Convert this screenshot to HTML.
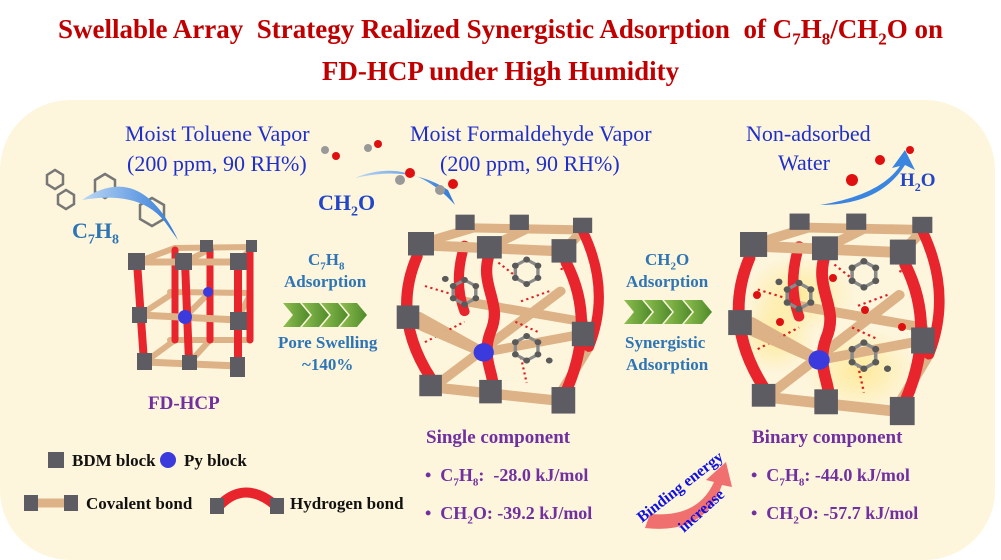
<!DOCTYPE html>
<html><head><meta charset="utf-8"><style>
html,body{margin:0;padding:0;background:#fff;}
body{width:1001px;height:543px;position:relative;overflow:hidden;font-family:"Liberation Serif",serif;font-weight:bold;}
.t{position:absolute;white-space:nowrap;}
.title{color:#c00000;font-size:27px;left:0;width:1001px;text-align:center;}
.blue{color:#1f2fcc;font-weight:normal;font-size:21px;}
.lb{color:#2e75b6;}
.pur{color:#7030a0;}
.k{color:#111;font-size:17px;}
</style></head><body>
<div class="t title" style="top:14px">Swellable Array&nbsp; Strategy Realized Synergistic Adsorption&nbsp; of C<sub style="font-size:17px">7</sub>H<sub style="font-size:17px">8</sub>/CH<sub style="font-size:17px">2</sub>O on</div>
<div class="t title" style="top:56px">FD-HCP under High Humidity</div>
<div style="position:absolute;left:0;top:100px;width:995px;height:460px;background:#fdf5dc;border-radius:70px;"></div>
<svg style="position:absolute;left:0;top:0" width="1001" height="543">
<defs>
<linearGradient id="g" x1="0" x2="1"><stop offset="0" stop-color="#8fbf50"/><stop offset="1" stop-color="#4e8a2a"/></linearGradient>
<linearGradient id="ba" x1="0" x2="1"><stop offset="0" stop-color="#bcd8f5"/><stop offset="1" stop-color="#2f78d8"/></linearGradient>
<radialGradient id="glow"><stop offset="0" stop-color="#ffe680" stop-opacity="0.9"/><stop offset="1" stop-color="#ffe680" stop-opacity="0"/></radialGradient>
<g id="cube">
 <g stroke="#deb287" stroke-width="9" stroke-linecap="round">
  <line x1="463" y1="228" x2="560" y2="230"/>
  <line x1="417" y1="243" x2="463" y2="228"/><line x1="477" y1="247" x2="510" y2="229"/><line x1="543" y1="250" x2="560" y2="230"/>
  <line x1="415" y1="315" x2="472" y2="350"/><line x1="472" y1="350" x2="560" y2="332"/>
  <line x1="430" y1="382" x2="540" y2="290"/><line x1="455" y1="300" x2="560" y2="320"/>
  <line x1="540" y1="390" x2="565" y2="345"/>
 </g>
 <g stroke="#e8242c" stroke-width="9" fill="none" stroke-linecap="round">
  <path d="M560 232 Q585 290 565 345"/><path d="M455 245 Q445 280 455 310"/>
 </g>
 <g stroke="#e02020" stroke-width="2" stroke-dasharray="2,3" fill="none">
  <line x1="420" y1="285" x2="450" y2="295"/><line x1="420" y1="340" x2="455" y2="320"/><line x1="485" y1="262" x2="500" y2="275"/><line x1="505" y1="300" x2="530" y2="290"/><line x1="500" y1="320" x2="520" y2="330"/><line x1="505" y1="355" x2="510" y2="380"/><line x1="540" y1="268" x2="548" y2="270"/>
 </g>
 <g fill="none" stroke="#8a8a8a" stroke-width="3">
  <polygon points="445,285 455,279 465,285 465,297 455,303 445,297"/>
  <polygon points="500,265 510,259 520,265 520,277 510,283 500,277"/>
  <polygon points="500,340 510,334 520,340 520,352 510,358 500,352"/>
 </g>
 <g fill="#5a5a5a">
  <circle cx="445" cy="285" r="3"/><circle cx="455" cy="279" r="3"/><circle cx="465" cy="285" r="3"/><circle cx="465" cy="297" r="3"/><circle cx="455" cy="303" r="3"/><circle cx="445" cy="297" r="3"/><circle cx="438" cy="278" r="3"/>
  <circle cx="500" cy="265" r="3"/><circle cx="510" cy="259" r="3"/><circle cx="520" cy="265" r="3"/><circle cx="520" cy="277" r="3"/><circle cx="510" cy="283" r="3"/><circle cx="500" cy="277" r="3"/>
  <circle cx="500" cy="340" r="3"/><circle cx="510" cy="334" r="3"/><circle cx="520" cy="340" r="3"/><circle cx="520" cy="352" r="3"/><circle cx="510" cy="358" r="3"/><circle cx="500" cy="352" r="3"/><circle cx="530" cy="358" r="3"/>
 </g>
 <g fill="#5c5c62">
  <rect x="447" y="215" width="17" height="15"/><rect x="495" y="215" width="17" height="15"/><rect x="551" y="218" width="17" height="15"/>
 </g>
 <g stroke="#deb287" stroke-width="10" stroke-linecap="round">
  <line x1="417" y1="245" x2="543" y2="251"/>
  <line x1="425" y1="384" x2="543" y2="398"/>
  <line x1="405" y1="318" x2="472" y2="350"/>
 </g>
 <g stroke="#e8242c" stroke-width="10" fill="none" stroke-linecap="round">
  <path d="M413 256 Q390 315 425 375"/>
  <path d="M478 250 C466 285 490 300 478 330 C468 360 486 375 478 392"/>
  <path d="M545 262 Q572 320 545 388"/>
 </g>
 <circle cx="472" cy="350" r="9" fill="#3b3bdd"/>
 <g fill="#5c5c62">
  <rect x="405" y="232" width="23" height="23"/><rect x="466" y="236" width="22" height="22"/><rect x="532" y="239" width="22" height="23"/>
  <rect x="395" y="304" width="20" height="23"/><rect x="550" y="320" width="20" height="24"/>
  <rect x="415" y="372" width="20" height="21"/><rect x="468" y="377" width="20" height="23"/><rect x="532" y="384" width="21" height="26"/>
 </g>
</g>
</defs>
<!-- small cube -->
<g stroke-linecap="round">
<g stroke="#deb287" stroke-width="6">
<line x1="175" y1="248" x2="252" y2="247"/><line x1="170" y1="292" x2="250" y2="293"/><line x1="170" y1="340" x2="250" y2="340"/>
<line x1="137" y1="262" x2="175" y2="248"/><line x1="185" y1="262" x2="212" y2="248"/><line x1="238" y1="262" x2="252" y2="248"/>
<line x1="140" y1="315" x2="175" y2="292"/><line x1="185" y1="317" x2="210" y2="292"/><line x1="238" y1="318" x2="250" y2="295"/>
<line x1="145" y1="362" x2="175" y2="340"/><line x1="190" y1="362" x2="210" y2="340"/>
</g>
<g stroke="#e8242c" stroke-width="7">
<line x1="175" y1="250" x2="175" y2="340"/><line x1="210" y1="250" x2="210" y2="340"/><line x1="250" y1="250" x2="250" y2="340"/>
</g>
<g fill="#5c5c62"><rect x="200" y="240" width="13" height="12"/><rect x="246" y="240" width="11" height="12"/></g>
<g stroke="#deb287" stroke-width="7">
<line x1="137" y1="262" x2="238" y2="262"/><line x1="140" y1="315" x2="238" y2="320"/><line x1="145" y1="362" x2="238" y2="366"/>
</g>
<g stroke="#e8242c" stroke-width="8">
<line x1="137" y1="262" x2="144" y2="362"/><line x1="185" y1="262" x2="189" y2="362"/><line x1="238" y1="262" x2="238" y2="366"/>
</g>
<g fill="#5c5c62">
<rect x="128" y="253" width="17" height="17"/><rect x="175" y="253" width="17" height="17"/><rect x="230" y="253" width="17" height="17"/>
<rect x="132" y="307" width="15" height="16"/><rect x="230" y="312" width="17" height="18"/>
<rect x="137" y="353" width="15" height="17"/><rect x="182" y="355" width="15" height="15"/><rect x="230" y="357" width="15" height="20"/>
</g>
<circle cx="185" cy="317" r="7" fill="#3b3bdd"/><circle cx="208" cy="292" r="5" fill="#3b3bdd"/>
</g>
<use href="#cube" transform="translate(408,232) scale(1.13,1.02) translate(-405,-232)"/>
<g opacity="0.8"><ellipse cx="800" cy="295" rx="55" ry="38" fill="url(#glow)"/><ellipse cx="860" cy="370" rx="55" ry="42" fill="url(#glow)"/><ellipse cx="775" cy="335" rx="40" ry="38" fill="url(#glow)"/></g>
<use href="#cube" transform="translate(740,232) scale(1.18,1.085) translate(-405,-232)"/>
<g fill="#e01010"><circle cx="757" cy="295" r="4"/><circle cx="833" cy="278" r="4"/><circle cx="865" cy="310" r="4"/><circle cx="780" cy="322" r="4"/><circle cx="902" cy="327" r="4"/></g>
<!-- chevrons -->
<g fill="url(#g)">
<polygon points="283,303 300,303 310,315 300,327 283,327 293,315"/><polygon points="302,303 319,303 329,315 319,327 302,327 312,315"/><polygon points="321,303 338,303 348,315 338,327 321,327 331,315"/><polygon points="340,303 357,303 367,315 357,327 340,327 350,315"/>
<polygon points="624,300 642,300 652,312 642,324 624,324 634,312"/><polygon points="644,300 662,300 672,312 662,324 644,324 654,312"/><polygon points="664,300 682,300 692,312 682,324 664,324 674,312"/><polygon points="684,300 702,300 712,312 702,324 684,324 694,312"/>
</g>
<!-- molecules in air -->
<g fill="none" stroke="#777" stroke-width="2.5">
<polygon points="47,175 55,170 63,175 63,184 55,189 47,184"/>
<polygon points="58,195 66,190 74,195 74,204 66,209 58,204"/>
<polygon points="95,180 105,174 115,180 115,192 105,198 95,192"/>
<polygon points="140,205 152,198 164,205 164,219 152,226 140,219"/>
</g>
<!-- blue arrows -->
<path d="M82 200 Q140 160 178 240 L165 222 Q140 190 82 200Z" fill="url(#ba)"/>
<path d="M355 178 Q410 155 455 205 L448 190 Q410 165 355 178Z" fill="url(#ba)"/>
<path d="M820 205 Q880 205 905 165 L915 170 L905 150 L892 168 L900 166 Q880 195 820 205Z" fill="#3a85e0"/>
<g><circle cx="325" cy="150" r="4" fill="#999"/><circle cx="336" cy="156" r="4" fill="#e01010"/><circle cx="368" cy="148" r="4" fill="#999"/><circle cx="378" cy="144" r="4" fill="#e01010"/><circle cx="440" cy="190" r="5" fill="#999"/><circle cx="453" cy="184" r="5" fill="#e01010"/><circle cx="400" cy="180" r="5" fill="#999"/><circle cx="410" cy="173" r="5" fill="#e01010"/></g>
<g><circle cx="852" cy="180" r="6" fill="#e01010"/><circle cx="880" cy="160" r="5" fill="#e01010"/><circle cx="910" cy="150" r="4" fill="#e01010"/></g>
<!-- legend -->
<rect x="48" y="452" width="16" height="16" fill="#5c5c62"/><circle cx="168" cy="460" r="8" fill="#3b3bdd"/>
<line x1="30" y1="503" x2="70" y2="503" stroke="#deb287" stroke-width="9"/><rect x="24" y="495" width="14" height="16" fill="#5c5c62"/><rect x="64" y="495" width="14" height="16" fill="#5c5c62"/>
<path d="M220 505 Q245 480 275 505" stroke="#e8242c" stroke-width="10" fill="none"/><rect x="210" y="498" width="14" height="16" fill="#5c5c62"/><rect x="270" y="498" width="14" height="16" fill="#5c5c62"/>
<!-- binding energy arrow -->
<path d="M645 528 Q705 535 722 485 L732 487 L726 462 L706 480 L714 482 Q698 518 650 514Z" fill="#f07070"/>
<text x="642" y="523" transform="rotate(-38 642 523)" font-family="Liberation Serif" font-weight="bold" font-size="16" fill="#1010e0">Binding energy</text>
<text x="684" y="533" transform="rotate(-42 684 533)" font-family="Liberation Serif" font-weight="bold" font-size="16" fill="#1010e0">increase</text>
</svg>
<div class="t blue" style="left:125px;top:121px;font-size:22px">Moist Toluene Vapor</div>
<div class="t blue" style="left:127px;top:151px;font-size:22px">(200 ppm, 90 RH%)</div>
<div class="t blue" style="left:410px;top:121px;font-size:22px">Moist Formaldehyde Vapor</div>
<div class="t blue" style="left:440px;top:151px;font-size:22px">(200 ppm, 90 RH%)</div>
<div class="t blue" style="left:746px;top:121px;font-size:22px">Non-adsorbed</div>
<div class="t blue" style="left:778px;top:150px;font-size:22px">Water</div>
<div class="t" style="left:900px;top:170px;font-size:19px;color:#2346c8">H<sub style="font-size:12px">2</sub>O</div>
<div class="t lb" style="left:72px;top:218px;font-size:22px">C<sub style="font-size:14px">7</sub>H<sub style="font-size:14px">8</sub></div>
<div class="t" style="left:318px;top:190px;font-size:22px;color:#2346c8">CH<sub style="font-size:14px">2</sub>O</div>
<div class="t lb" style="left:308px;top:250px;font-size:17px">C<sub style="font-size:11px">7</sub>H<sub style="font-size:11px">8</sub></div>
<div class="t lb" style="left:284px;top:272px;font-size:17px">Adsorption</div>
<div class="t lb" style="left:278px;top:333px;font-size:17px">Pore Swelling</div>
<div class="t lb" style="left:302px;top:355px;font-size:17px">~140%</div>
<div class="t lb" style="left:645px;top:250px;font-size:17px">CH<sub style="font-size:11px">2</sub>O</div>
<div class="t lb" style="left:626px;top:272px;font-size:17px">Adsorption</div>
<div class="t lb" style="left:625px;top:333px;font-size:17px">Synergistic</div>
<div class="t lb" style="left:626px;top:355px;font-size:17px">Adsorption</div>
<div class="t pur" style="left:148px;top:393px;font-size:19px">FD-HCP</div>
<div class="t k" style="left:72px;top:451px">BDM block</div>
<div class="t k" style="left:184px;top:451px">Py block</div>
<div class="t k" style="left:86px;top:494px">Covalent bond</div>
<div class="t k" style="left:290px;top:494px">Hydrogen bond</div>
<div class="t pur" style="left:426px;top:427px;font-size:19px">Single component</div>
<div class="t pur" style="left:425px;top:465px;font-size:18px">•&nbsp; C<sub style="font-size:11px">7</sub>H<sub style="font-size:11px">8</sub>:&nbsp; -28.0 kJ/mol</div>
<div class="t pur" style="left:425px;top:503px;font-size:18px">•&nbsp; CH<sub style="font-size:11px">2</sub>O: -39.2 kJ/mol</div>
<div class="t pur" style="left:752px;top:427px;font-size:19px">Binary component</div>
<div class="t pur" style="left:751px;top:465px;font-size:18px">•&nbsp; C<sub style="font-size:11px">7</sub>H<sub style="font-size:11px">8</sub>: -44.0 kJ/mol</div>
<div class="t pur" style="left:751px;top:503px;font-size:18px">•&nbsp; CH<sub style="font-size:11px">2</sub>O: -57.7 kJ/mol</div>
</body></html>
